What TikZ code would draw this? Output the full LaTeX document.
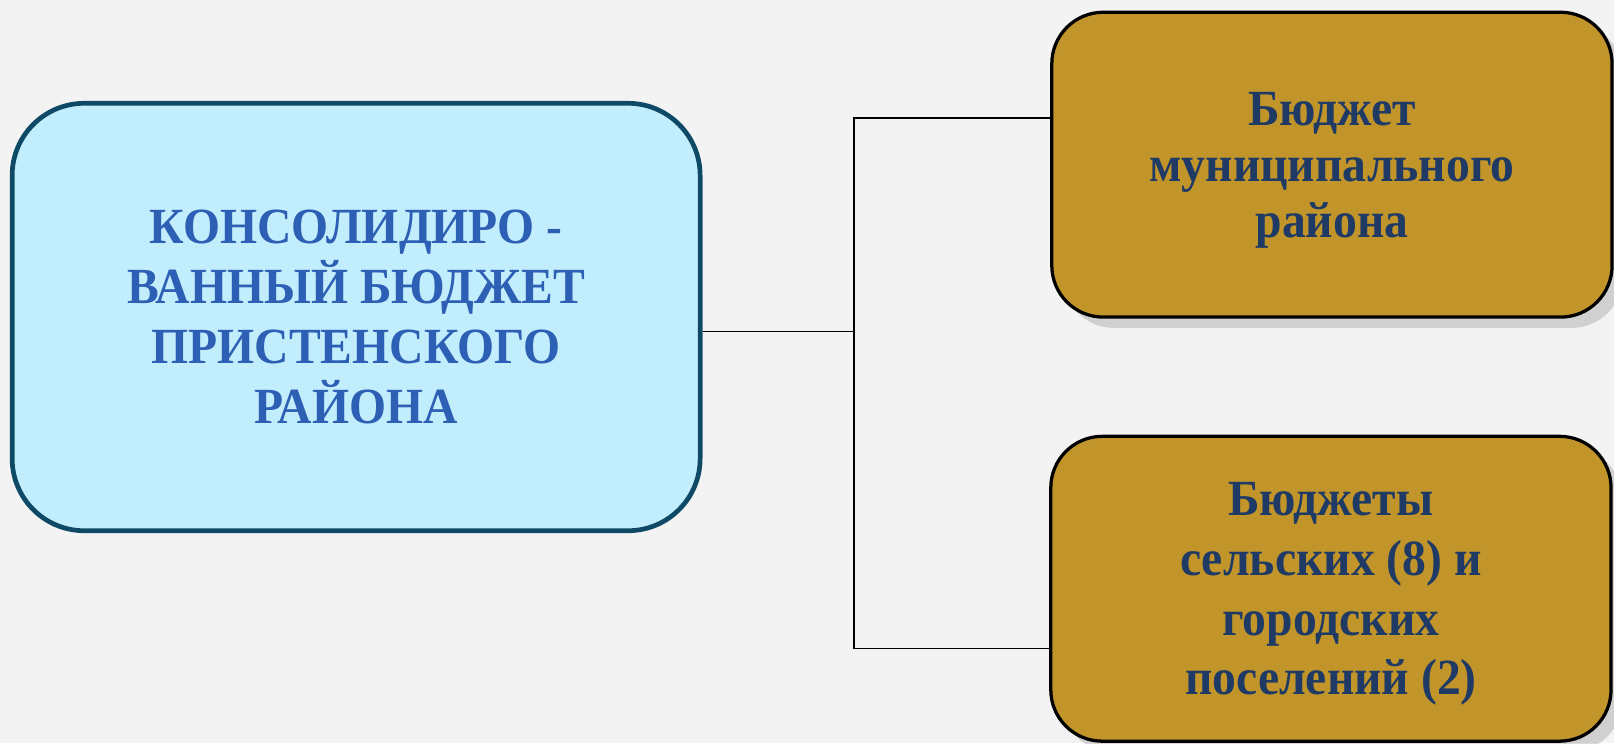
\documentclass[tikz,border=0pt]{standalone}
\usepackage{fontspec}
\setmainfont{Liberation Serif}
\newfontfamily\narrowfont[FakeStretch=0.94]{Liberation Serif}
\usetikzlibrary{shadows}
\definecolor{bgc}{HTML}{F3F3F3}
\definecolor{cyanfill}{HTML}{C2EDFC}
\definecolor{cyanline}{HTML}{0E4A66}
\definecolor{bluetext}{HTML}{2D5FB5}
\definecolor{goldfill}{HTML}{C1952A}
\definecolor{navytext}{HTML}{1F3A64}
\begin{document}
\begin{tikzpicture}[
  x=0.01cm, y=0.01cm,
  every node/.style = {align=center, inner sep=0pt,
    font=\narrowfont\bfseries\fontsize{14}{16.5}\selectfont},
  mainbox/.style = {rounded corners=0.7cm, draw=cyanline, line width=1.3pt,
    fill=cyanfill, text=bluetext, minimum width=6.68cm, minimum height=4.15cm},
  partbox/.style = {rounded corners=0.5cm, draw=black, line width=0.9pt,
    fill=goldfill, text=navytext, minimum width=5.44cm, minimum height=2.96cm,
    text depth=0pt,
    drop shadow={shadow xshift=3pt, shadow yshift=-3pt, opacity=.3}},
  link/.style = {draw=black, line width=0.5pt}]
  \useasboundingbox (0,0) rectangle (1568,722);
  \fill[bgc] (0,0) rectangle (1568,722);
  \node[mainbox] (cons) at (346,414) {КОНСОЛИДИРО -\\ВАННЫЙ БЮДЖЕТ\\ПРИСТЕНСКОГО\\РАЙОНА};
  \node[partbox, font=\narrowfont\bfseries\fontsize{14}{15.4}\selectfont]
    (mun) at (1294,562) {Бюджет\\муниципального\\района};
  \node[partbox] (sel) at (1293,150) {Бюджеты\\сельских (8) и\\городских\\поселений (2)};
  \coordinate (jn) at (830,400);
  \draw[link] (cons.east |- jn) -- (jn);
  \draw[link] (jn) |- ([yshift=0.45cm]mun.west);
  \draw[link] (jn) |- ([yshift=-0.58cm]sel.west);
\end{tikzpicture}
\end{document}
